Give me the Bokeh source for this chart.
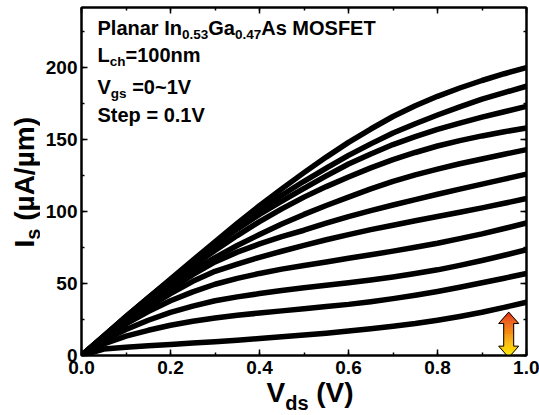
from bokeh.plotting import figure
from bokeh.layouts import row, column
from bokeh.models import (Range1d, SingleIntervalTicker, LinearAxis, Label,
                          PrintfTickFormatter, CustomLabelingPolicy)
from bokeh.embed import file_html
from bokeh.resources import INLINE

# Output characteristics: drain voltage sweep and source current per gate step
vds = [0.0, 0.05, 0.1, 0.15, 0.2, 0.25, 0.3, 0.35, 0.4, 0.45, 0.5,
       0.55, 0.6, 0.65, 0.7, 0.75, 0.8, 0.85, 0.9, 0.95, 1.0]

is_vgs_00 = [0, 4.5, 5.8, 6.8, 7.7, 8.6, 9.5, 10.6, 11.8, 13.0, 14.2,
             15.5, 17.0, 18.6, 20.3, 22.2, 24.5, 27.1, 30.0, 33.4, 37.0]
is_vgs_01 = [0, 8.0, 13.5, 17.5, 21.0, 23.8, 26.0, 27.9, 29.5, 31.0, 32.5,
             34.0, 35.5, 37.4, 39.5, 41.9, 44.5, 47.4, 50.5, 53.7, 57.0]
is_vgs_02 = [0, 10.5, 18.0, 24.5, 30.0, 34.3, 38.0, 40.7, 43.0, 45.1, 47.0,
             48.8, 50.5, 52.4, 54.5, 56.9, 59.5, 62.6, 66.0, 69.6, 73.5]
is_vgs_03 = [0, 12.0, 22.0, 30.5, 38.0, 44.2, 49.5, 53.6, 57.0, 60.0, 62.5,
             65.0, 67.5, 70.0, 72.5, 75.2, 78.0, 81.2, 84.5, 88.2, 92.0]
is_vgs_04 = [0, 12.5, 24.0, 33.5, 43.0, 51.5, 58.5, 63.5, 68.2, 72.4, 76.5,
             80.4, 84.0, 87.4, 90.5, 93.6, 96.5, 99.5, 102.5, 105.7, 109.0]
is_vgs_05 = [0, 12.8, 25.0, 36.0, 46.0, 56.2, 65.0, 71.8, 77.5, 82.5, 87.0,
             91.9, 96.5, 100.6, 104.5, 108.3, 112.0, 115.6, 119.0, 122.5, 126.0]
is_vgs_06 = [0, 13.0, 25.5, 37.5, 48.5, 58.6, 68.0, 76.4, 84.0, 91.3, 98.0,
             104.2, 110.0, 115.7, 121.0, 125.5, 129.5, 133.2, 136.5, 139.8, 143.0]
is_vgs_07 = [0, 13.0, 26.0, 38.5, 50.5, 62.0, 73.0, 83.3, 93.0, 101.8, 110.0,
             117.3, 124.0, 130.3, 136.0, 141.0, 145.5, 149.2, 152.5, 155.4, 158.0]
is_vgs_08 = [0, 13.3, 26.5, 39.5, 52.0, 64.7, 77.0, 87.8, 98.0, 107.2, 116.0,
             124.7, 133.0, 140.0, 146.5, 152.0, 157.0, 161.4, 165.5, 169.3, 173.0]
is_vgs_09 = [0, 13.5, 27.0, 40.0, 52.5, 65.4, 78.0, 89.8, 101.0, 111.3, 121.0,
             130.2, 139.0, 147.0, 154.5, 161.0, 167.0, 172.7, 178.0, 182.6, 187.0]
is_vgs_10 = [0, 13.5, 27.0, 40.0, 53.0, 66.1, 79.0, 91.7, 104.0, 115.7, 127.0,
             137.8, 148.0, 157.3, 166.0, 173.4, 180.0, 185.8, 191.0, 195.7, 200.0]

curves = [is_vgs_00, is_vgs_01, is_vgs_02, is_vgs_03, is_vgs_04, is_vgs_05,
          is_vgs_06, is_vgs_07, is_vgs_08, is_vgs_09, is_vgs_10]

FONT = "Liberation Sans"
LEFT_W = 40          # strip holding the vertical axis title
MAIN_W = 499
MAIN_H = 381
BOTTOM_H = 34        # strip holding the horizontal axis title
FRAME_BOTTOM = 355   # page y of the plot frame's bottom edge
FRAME_LEFT = 81      # page x of the plot frame's left edge

p = figure(width=MAIN_W, height=MAIN_H, output_backend="svg",
           toolbar_location=None,
           x_range=Range1d(0, 1), y_range=Range1d(0, 241.7),
           min_border_left=41, min_border_right=13, min_border_top=7,
           min_border_bottom=26)
p.xgrid.visible = False
p.ygrid.visible = False
p.outline_line_color = "black"
p.outline_line_width = 2
p.background_fill_color = "white"
p.border_fill_color = "white"

no_labels = CustomLabelingPolicy(
    code="for (const i of indices) { indices.unset(i) }\nreturn indices")


def style_axis(ax, show_labels):
    ax.axis_line_width = 2
    ax.axis_line_color = "black"
    ax.major_tick_in = 6
    ax.major_tick_out = 0
    ax.minor_tick_in = 3
    ax.minor_tick_out = 0
    ax.major_tick_line_width = 1.5
    ax.minor_tick_line_width = 1.5
    ax.major_tick_line_color = "black"
    ax.minor_tick_line_color = "black"
    ax.axis_label = None
    if show_labels:
        ax.major_label_text_font = FONT
        ax.major_label_text_font_style = "bold"
        ax.major_label_text_font_size = "19px"
        ax.major_label_text_color = "black"
    else:
        ax.major_label_text_font_size = "0px"
        ax.major_label_standoff = 0
        ax.major_label_policy = no_labels


for ax in p.xaxis:
    ax.ticker = SingleIntervalTicker(interval=0.2, num_minor_ticks=2)
    ax.formatter = PrintfTickFormatter(format="%.1f")
    style_axis(ax, True)
    ax.major_label_standoff = 5
for ax in p.yaxis:
    ax.ticker = SingleIntervalTicker(interval=50, num_minor_ticks=2)
    style_axis(ax, True)
    ax.major_label_standoff = 4

top_axis = LinearAxis(ticker=SingleIntervalTicker(interval=0.2, num_minor_ticks=2))
style_axis(top_axis, False)
p.add_layout(top_axis, "above")
right_axis = LinearAxis(ticker=SingleIntervalTicker(interval=50, num_minor_ticks=2))
style_axis(right_axis, False)
p.add_layout(right_axis, "right")

# I-V curves
for ys in curves:
    p.line(vds, ys, line_color="black", line_width=5.5,
           line_join="round", line_cap="round")

# Gate-step arrow with a red-to-yellow gradient
arrow_x = 0.960
arrow_top = 30.1
arrow_bottom = -1.4
head_len = 7.9
head_half = 0.0225
shaft_half = 0.0112
n_strips = 48
lefts, rights, bottoms, tops, colors = [], [], [], [], []
c_top = (228, 52, 24)
c_mid = (246, 150, 16)
c_bot = (255, 246, 0)
for i in range(n_strips):
    y0 = arrow_bottom + (arrow_top - arrow_bottom) * i / n_strips
    y1 = arrow_bottom + (arrow_top - arrow_bottom) * (i + 1) / n_strips
    yc = 0.5 * (y0 + y1)
    if yc > arrow_top - head_len:
        w = head_half * (arrow_top - yc) / head_len
    elif yc < arrow_bottom + head_len:
        w = head_half * (yc - arrow_bottom) / head_len
    else:
        w = shaft_half
    t = (yc - arrow_bottom) / (arrow_top - arrow_bottom)
    if t < 0.5:
        a, b, f = c_bot, c_mid, t / 0.5
    else:
        a, b, f = c_mid, c_top, (t - 0.5) / 0.5
    rgb = tuple(int(round(a[k] + (b[k] - a[k]) * f)) for k in range(3))
    lefts.append(arrow_x - w)
    rights.append(arrow_x + w)
    bottoms.append(y0)
    tops.append(y1)
    colors.append("#%02x%02x%02x" % rgb)
p.quad(left=lefts, right=rights, bottom=bottoms, top=tops,
       fill_color=colors, line_color=colors, line_width=0.5)
outline_x = [arrow_x, arrow_x + head_half, arrow_x + shaft_half, arrow_x + shaft_half,
             arrow_x + head_half, arrow_x, arrow_x - head_half, arrow_x - shaft_half,
             arrow_x - shaft_half, arrow_x - head_half, arrow_x]
outline_y = [arrow_top, arrow_top - head_len, arrow_top - head_len,
             arrow_bottom + head_len, arrow_bottom + head_len, arrow_bottom,
             arrow_bottom + head_len, arrow_bottom + head_len, arrow_top - head_len,
             arrow_top - head_len, arrow_top]
p.patch(outline_x, outline_y, fill_color=None, line_color="black", line_width=1)

# Arial-bold advance widths (per em) used to place rich-text pieces
ADV = {" ": .278, "(": .333, ")": .333, ".": .278, "/": .278, "=": .584, "~": .584,
       "A": .722, "E": .667, "F": .611, "G": .778, "I": .278, "L": .611, "M": .833,
       "O": .778, "P": .667, "S": .667, "T": .611, "V": .667, "a": .556, "c": .556,
       "d": .611, "e": .556, "g": .611, "h": .611, "l": .278, "m": .889, "n": .611,
       "p": .611, "r": .389, "s": .556, "t": .333, "\u00b5": .611}
for dch in "0123456789":
    ADV[dch] = .556
MID = 0.3465   # em distance from the baseline up to the anchor used by labels


def text_width(s, size):
    return sum(ADV.get(ch, .556) for ch in s) * size


def rich_line(target, pieces, x0, base, angle=0.0):
    """Lay out (text, size, drop) pieces along one baseline.

    Horizontal: x0 is the start, base the baseline height (screen units, y up).
    Rotated: x0 is the baseline x, base the start height.
    """
    pos = x0 if angle == 0 else base
    for txt, size, drop in pieces:
        lead = len(txt) - len(txt.lstrip(" "))
        pos += text_width(" " * lead, size)
        txt = txt.lstrip(" ")
        if angle == 0:
            lx, ly = pos, base - drop + MID * size
        else:
            lx, ly = x0 + drop - MID * size, pos
        target.add_layout(Label(x=lx, y=ly, x_units="screen", y_units="screen",
                                text=txt, angle=angle, text_font=FONT,
                                text_font_style="bold", text_font_size=f"{size}px",
                                text_color="black", text_align="left",
                                text_baseline="alphabetic"))
        pos += text_width(txt, size)


MAIN, SUB, DROP = 20, 13.5, 5
LEFT = 97 - FRAME_LEFT
rich_line(p, [("Planar In", MAIN, 0), ("0.53", SUB, DROP), ("Ga", MAIN, 0),
              ("0.47", SUB, DROP), ("As MOSFET", MAIN, 0)], LEFT, FRAME_BOTTOM - 34)
rich_line(p, [("L", MAIN, 0), ("ch", SUB, DROP), ("=100nm", MAIN, 0)],
          LEFT, FRAME_BOTTOM - 61)
rich_line(p, [("V", MAIN, 0), ("gs", SUB, DROP), (" =0~1V", MAIN, 0)],
          LEFT, FRAME_BOTTOM - 93)
rich_line(p, [("Step = 0.1V", MAIN, 0)], LEFT, FRAME_BOTTOM - 121)


def text_strip(w, h):
    s = figure(width=w, height=h, output_backend="svg", toolbar_location=None,
               x_axis_type=None, y_axis_type=None, min_border=0,
               x_range=Range1d(0, 1), y_range=Range1d(0, 1))
    s.outline_line_color = None
    s.background_fill_color = "white"
    s.border_fill_color = "white"
    return s


PAGE_H = MAIN_H + BOTTOM_H

# Vertical axis title, reading upwards
y_title = text_strip(LEFT_W, PAGE_H)
rich_line(y_title, [("I", 28, 0), ("s", 20, 5.5), (" (\u00b5A/\u00b5m)", 28, 0)],
          34, PAGE_H - 247, angle=1.5707963267948966)

# Horizontal axis title; this strip's frame lines up with the plot frame
x_title = text_strip(MAIN_W, BOTTOM_H)
rich_line(x_title, [("V", 28, 0), ("ds", 20, 7), (" (V)", 28, 0)],
          266 - FRAME_LEFT, PAGE_H - 402)

page = row(y_title, column(p, x_title, spacing=0), spacing=0)

open("out.html", "w").write(file_html(page, INLINE))
